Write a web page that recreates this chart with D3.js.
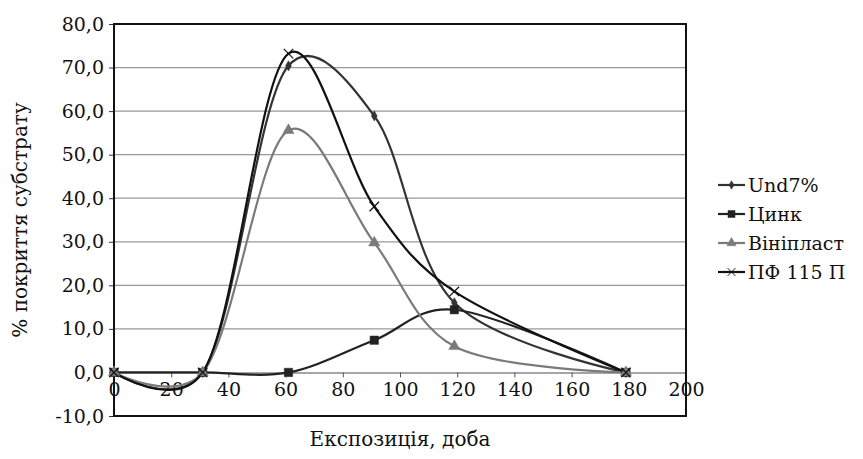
<!DOCTYPE html>
<html>
<head>
<meta charset="utf-8">
<script src="https://cdn.jsdelivr.net/npm/d3@7"></script>
<style>
  body { margin: 0; background: #fff; }
  svg text { font-family: "DejaVu Serif"; }
</style>
</head>
<body>
<svg id="chart" width="863" height="459"></svg>
<script>
// дані
const days = [0, 31, 61, 91, 119, 179];
const und7 = [0, 0, 70.4, 58.9, 16.0, 0];
const zinc = [0, 0, 0, 7.4, 14.4, 0];
const vinyl = [0, 0, 55.6, 29.8, 6.0, 0];
const pf115 = [0, 0, 73.2, 38.1, 18.6, 0];
const seriesNames = ["Und7%", "Цинк", "Вініпласт", "ПФ 115 П"];
const yTicks = [-10, 0, 10, 20, 30, 40, 50, 60, 70, 80];
const xTicks = [0, 20, 40, 60, 80, 100, 120, 140, 160, 180, 200];

const svg = d3.select("#chart");
const plotLeft = 114, plotRight = 686, plotTop = 24, plotBottom = 416;

const x = d3.scaleLinear().domain([0, 200]).range([plotLeft, plotRight]);
const y = d3.scaleLinear().domain([-10, 80]).range([plotBottom, plotTop]);

const fmt = d => d.toFixed(1).replace(".", ",");

// горизонтальна сітка
svg.append("g")
  .selectAll("line")
  .data(yTicks.filter(d => d > 0 && d < 80))
  .enter().append("line")
  .attr("x1", plotLeft).attr("x2", plotRight)
  .attr("y1", d => y(d)).attr("y2", d => y(d))
  .style("stroke", "#999")
  .style("stroke-width", 1.2);

// вісь Y
const yAxis = svg.append("g")
  .attr("transform", `translate(${plotLeft},0)`)
  .call(d3.axisLeft(y).tickValues(yTicks).tickFormat(fmt).tickSize(5).tickPadding(5));
yAxis.attr("font-family", null).attr("font-size", 19);
yAxis.select(".domain").remove();
yAxis.selectAll("line").style("stroke", "#333");
yAxis.selectAll("text").attr("fill", "#111");

// вісь X на рівні нуля
const xAxis = svg.append("g")
  .attr("transform", `translate(0,${y(0)})`)
  .call(d3.axisBottom(x).tickValues(xTicks).tickSize(5).tickPadding(5).tickSizeOuter(0));
xAxis.attr("font-family", null).attr("font-size", 19);
xAxis.select(".domain").style("stroke", "#888").style("stroke-width", 1.5);
xAxis.selectAll("line").style("stroke", "#555");
xAxis.selectAll("text").attr("fill", "#111");

// рамка області побудови
svg.append("rect")
  .attr("x", plotLeft).attr("y", plotTop)
  .attr("width", plotRight - plotLeft).attr("height", plotBottom - plotTop)
  .style("fill", "none").style("stroke", "#111").style("stroke-width", 2);

const series = [
  { name: seriesNames[0], values: und7, color: "#333", marker: d3.symbolDiamond, size: 30, width: 2.2 },
  { name: seriesNames[1], values: zinc, color: "#222", marker: d3.symbolSquare, size: 70, width: 2.2 },
  { name: seriesNames[2], values: vinyl, color: "#7a7a7a", marker: d3.symbolTriangle, size: 55, width: 2.2 },
  { name: seriesNames[3], values: pf115, color: "#111", marker: d3.symbolX, size: 60, width: 2.2 }
];

const line = d3.line()
  .curve(d3.curveCatmullRom.alpha(0.15))
  .x((d, i) => x(days[i]))
  .y(d => y(d));

series.forEach(s => {
  svg.append("path")
    .attr("d", line(s.values))
    .style("fill", "none")
    .style("stroke", s.color)
    .style("stroke-width", s.width);
});

series.forEach(s => {
  svg.append("g")
    .selectAll("path")
    .data(s.values)
    .enter().append("path")
    .attr("transform", (d, i) => `translate(${x(days[i])},${y(d)})`)
    .attr("d", d3.symbol().type(s.marker).size(s.size))
    .style("fill", s.marker === d3.symbolX ? "none" : s.color)
    .style("stroke", s.color)
    .style("stroke-width", s.marker === d3.symbolX ? 1.2 : 0.5);
});

// легенда
const legend = svg.append("g").attr("transform", "translate(718,185)");
series.forEach((s, i) => {
  const g = legend.append("g").attr("transform", `translate(0,${i * 29})`);
  g.append("line")
    .attr("x1", 0).attr("x2", 27).attr("y1", 0).attr("y2", 0)
    .style("stroke", s.color).style("stroke-width", 2.2);
  g.append("path")
    .attr("transform", "translate(13.5,0)")
    .attr("d", d3.symbol().type(s.marker).size(s.size * 0.7))
    .style("fill", s.marker === d3.symbolX ? "none" : s.color)
    .style("stroke", s.color)
    .style("stroke-width", s.marker === d3.symbolX ? 1 : 0.5);
  g.append("text")
    .attr("x", 30).attr("y", 7)
    .attr("font-size", 19).attr("fill", "#111")
    .text(s.name);
});

// підписи осей
svg.append("text")
  .attr("x", 400).attr("y", 446)
  .attr("text-anchor", "middle")
  .attr("font-size", 20).attr("fill", "#111")
  .text("Експозиція, доба");

svg.append("text")
  .attr("transform", "translate(27,220) rotate(-90)")
  .attr("text-anchor", "middle")
  .attr("font-size", 20).attr("fill", "#111")
  .text("% покриття субстрату");
</script>
</body>
</html>
